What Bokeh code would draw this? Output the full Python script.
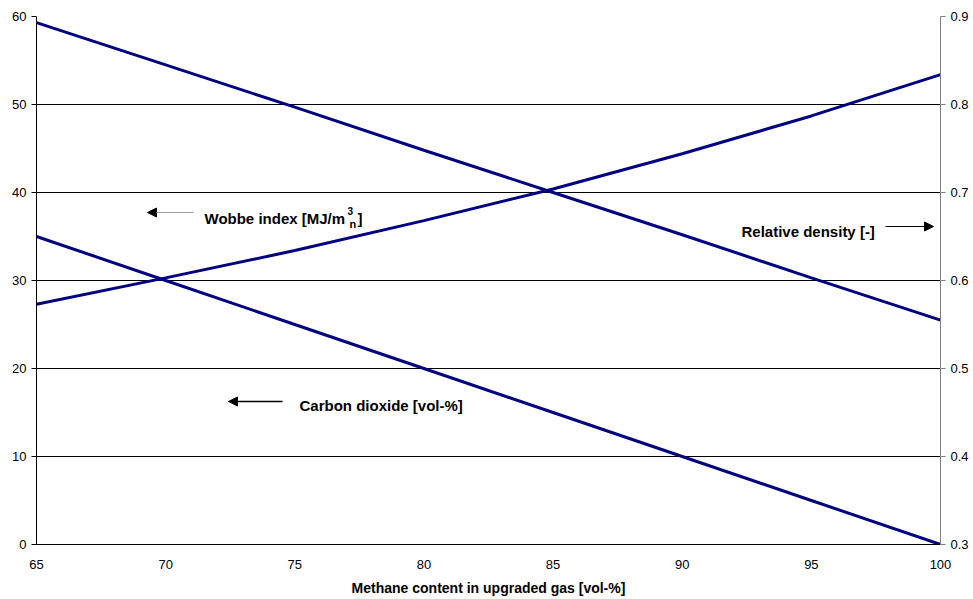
from bokeh.plotting import figure
from bokeh.models import (Range1d, LinearAxis, FixedTicker, PrintfTickFormatter,
                          Label, Arrow, NormalHead)
from bokeh.embed import file_html
from bokeh.resources import INLINE

# Methane content of the upgraded gas [vol-%]
methane = [65, 70, 75, 80, 85, 90, 95, 100]
# Wobbe index [MJ/m3n] (left axis)
wobbe = [27.3, 30.3, 33.4, 36.8, 40.4, 44.4, 48.7, 53.4]
# Relative density [-] (right axis)
rel_density = [0.893, 0.845, 0.797, 0.748, 0.700, 0.652, 0.603, 0.555]
# Carbon dioxide [vol-%] (left axis)
co2 = [35, 30, 25, 20, 15, 10, 5, 0]

x_ticks = [65, 70, 75, 80, 85, 90, 95, 100]
left_ticks = [0, 10, 20, 30, 40, 50, 60]
right_ticks = [0.3, 0.4, 0.5, 0.6, 0.7, 0.8, 0.9]

W, H = 973, 599
FL, FR, FT, FB = 36, 940, 16, 544
X0, X1, Y0, Y1 = 65, 100, 0, 60

FONT = "Liberation Sans"
NAVY = "#000080"


def dx(px):
    return X0 + (px - FL) * (X1 - X0) / (FR - FL)


def dy(py):
    return Y0 + (FB - py) * (Y1 - Y0) / (FB - FT)


p = figure(width=W, height=H, output_backend="svg", toolbar_location=None,
           x_range=Range1d(X0, X1), y_range=Range1d(Y0, Y1),
           min_border_left=FL, min_border_right=W - FR,
           min_border_top=FT, min_border_bottom=H - FB,
           x_axis_label="Methane content in upgraded gas [vol-%]")
p.extra_y_ranges = {"rd": Range1d(0.3, 0.9)}
p.outline_line_color = None
p.background_fill_color = "white"
p.border_fill_color = "white"

# x axis
xa = p.xaxis[0]
xa.ticker = FixedTicker(ticks=x_ticks)
xa.major_tick_out = 0
xa.major_tick_in = 0
xa.minor_tick_out = 0
xa.minor_tick_in = 0
xa.axis_line_color = "black"
xa.major_label_standoff = 15
xa.major_label_text_font = FONT
xa.major_label_text_font_size = "13px"
xa.major_label_text_color = "black"
xa.axis_label_standoff = 8
xa.axis_label_text_font = FONT
xa.axis_label_text_font_size = "14px"
xa.axis_label_text_font_style = "bold"
xa.axis_label_text_color = "black"

# left axis
ya = p.yaxis[0]
ya.ticker = FixedTicker(ticks=left_ticks)
ya.major_tick_out = 5
ya.major_tick_in = 0
ya.minor_tick_out = 0
ya.minor_tick_in = 0
ya.axis_line_color = "black"
ya.major_tick_line_color = "black"
ya.major_label_standoff = 5
ya.major_label_text_font = FONT
ya.major_label_text_font_size = "13px"
ya.major_label_text_color = "black"

# right axis for relative density
ra = LinearAxis(y_range_name="rd", ticker=FixedTicker(ticks=right_ticks),
                formatter=PrintfTickFormatter(format="%.1f"))
ra.major_tick_out = 5
ra.major_tick_in = 0
ra.minor_tick_out = 0
ra.minor_tick_in = 0
ra.axis_line_color = "#808080"
ra.major_tick_line_color = "#808080"
ra.major_label_standoff = 5
ra.major_label_text_font = FONT
ra.major_label_text_font_size = "13px"
ra.major_label_text_color = "black"
p.add_layout(ra, "right")

p.xgrid.visible = False
p.ygrid.ticker = FixedTicker(ticks=left_ticks)
p.ygrid.grid_line_color = "black"
p.ygrid.grid_line_width = 1

# curves
p.line(methane, wobbe, line_color=NAVY, line_width=3)
p.line(methane, rel_density, line_color=NAVY, line_width=3, y_range_name="rd")
p.line(methane, co2, line_color=NAVY, line_width=3)


def label(text, px, py, size="15px", style="bold"):
    p.add_layout(Label(x=dx(px), y=dy(py), text=text, text_font=FONT,
                       text_font_size=size, text_font_style=style,
                       text_color="black", text_baseline="alphabetic",
                       text_align="left"))


def arrow(x_from, x_to, py, color, width):
    p.add_layout(Arrow(x_start=dx(x_from), y_start=dy(py), x_end=dx(x_to), y_end=dy(py),
                       line_color=color, line_width=width,
                       end=NormalHead(size=9, fill_color="black", line_color="black")))


# Wobbe index annotation (m with superscript 3 and subscript n)
label("Wobbe index [MJ/m", 204, 218)
label("3", 347, 210, size="10px")
label("n", 349, 223, size="11px")
label("]", 357, 218)
arrow(193, 147, 212, "#a0a0a0", 1)

# Carbon dioxide annotation
label("Carbon dioxide [vol-%]", 299, 405)
arrow(282, 228, 401, "black", 1.5)

# Relative density annotation
label("Relative density [-]", 741, 231)
arrow(885, 933, 226, "black", 1)

open("out.html", "w").write(file_html(p, INLINE))
